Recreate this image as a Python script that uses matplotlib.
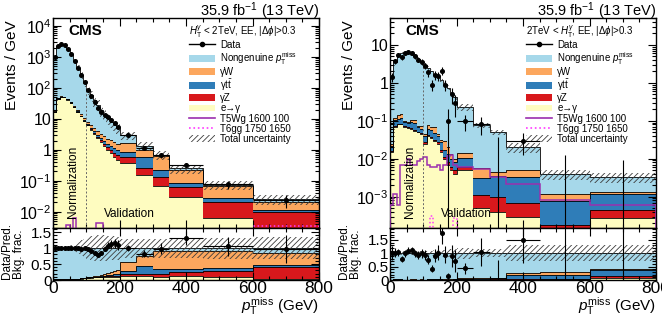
# CMS-style pTmiss distributions for the EE category, low and high H_T^gamma,
# with the stacked background, signal points and the data / bkg fraction pad.
import numpy as np
import matplotlib
matplotlib.use('Agg')
import matplotlib.pyplot as plt
from matplotlib.patches import Patch
from matplotlib.lines import Line2D
from matplotlib.ticker import MultipleLocator, LogLocator, FuncFormatter, NullFormatter
from matplotlib.transforms import blended_transform_factory

plt.rcParams['font.family'] = ['Liberation Sans', 'DejaVu Sans']
plt.rcParams['mathtext.fontset'] = 'custom'
plt.rcParams['mathtext.rm'] = 'Liberation Sans'
plt.rcParams['mathtext.it'] = 'Liberation Sans:italic'
plt.rcParams['mathtext.bf'] = 'Liberation Sans:bold'
plt.rcParams['hatch.linewidth'] = 0.6

# binning (GeV): 10 GeV bins up to 200, then wide bins
edges = [0, 10, 20, 30, 40, 50, 60, 70, 80, 90, 100, 110, 120, 130, 140, 150, 160,
         170, 180, 190, 200, 250, 300, 350, 450, 600, 800]

# ---- left panel: H_T^gamma < 2 TeV (events / GeV) ----
egamma_lo = [17, 45, 52, 50, 42, 33, 24, 17, 12, 8.5, 6.2, 4.5, 3.3, 2.4, 1.8, 1.35, 1.0,
             0.78, 0.6, 0.47, 0.37, 0.156, 0.07, 0.03, 0.0063, 0.001]
gz_lo = [0.05, 0.12, 0.18, 0.22, 0.24, 0.25, 0.26, 0.26, 0.26, 0.25, 0.25, 0.25, 0.24, 0.24,
         0.23, 0.23, 0.22, 0.22, 0.21, 0.21, 0.22, 0.10, 0.064, 0.033, 0.0137, 0.0092]
gtt_lo = [0.1, 0.3, 0.45, 0.55, 0.6, 0.6, 0.58, 0.55, 0.52, 0.5, 0.47, 0.44, 0.42, 0.4, 0.38,
          0.36, 0.34, 0.32, 0.3, 0.29, 0.27, 0.35, 0.09, 0.022, 0.008, 0.0012]
gw_lo = [0.2, 0.6, 1.0, 1.3, 1.5, 1.55, 1.5, 1.45, 1.35, 1.25, 1.15, 1.05, 0.97, 0.9, 0.84,
         0.78, 0.73, 0.69, 0.65, 0.62, 0.8, 0.39, 0.39, 0.145, 0.041, 0.0096]
nongen_lo = [983, 2154, 2546, 2348, 1756, 1165, 724, 431, 246, 139.5, 79.9, 51.8, 35.1, 24.1,
             16.3, 11.3, 8.2, 6.0, 4.5, 3.4, 1.34, 0.354, 0.066, 0.02, 0.006, 0.004]
data_lo = [1000, 2200, 2600, 2400, 1800, 1200, 742, 450, 255, 150, 85, 53, 34, 22, 16.6, 13.7,
           11.3, 9.0, 7.2, 5.5, 3.0, 1.11, 0.67, 0.33, 0.079, 0.024]
unc_lo = [0.04, 0.03, 0.03, 0.04, 0.06, 0.09, 0.13, 0.18, 0.24, 0.3, 0.35, 0.38, 0.4, 0.4, 0.4,
          0.4, 0.39, 0.38, 0.37, 0.36, 0.3, 0.3, 0.3, 0.32, 0.33, 0.35]
t5wg_lo = [1e-4, 1e-4, 1e-4, 1e-4, 0.0038, 1e-4, 0.0062, 1e-4, 1e-4, 1e-4, 1e-4, 1e-4, 1e-4,
           0.0045, 0.0045, 1e-4, 1e-4, 1e-4, 1e-4, 1e-4, 1e-4, 1e-4, 1e-4, 1e-4, 1e-4, 1e-4]
t6gg_lo = [1e-4, 1e-4, 1e-4, 1e-4, 1e-4, 1e-4, 1e-4, 1e-4, 1e-4, 1e-4, 1e-4, 1e-4, 1e-4,
           1e-4, 1e-4, 1e-4, 1e-4, 1e-4, 1e-4, 1e-4, 1e-4, 1e-4, 1e-4, 1e-4, 1e-4, 0.0035]

# ---- right panel: H_T^gamma > 2 TeV ----
egamma_hi = [0.015, 0.07, 0.08, 0.08, 0.07, 0.065, 0.06, 0.055, 0.05, 0.045, 0.025, 0.04, 0.035,
             0.03, 0.025, 0.015, 0.01, 0.007, 0.005, 0.004, 0.005, 0.0005, 0.0004, 0.0003,
             0.0001, 0.00028]
gz_hi = [0.001, 0.002, 0.003, 0.003, 0.003, 0.003, 0.003, 0.003, 0.002, 0.002, 0.002, 0.002,
         0.002, 0.002, 0.002, 0.002, 0.001, 0.001, 0.001, 0.001, 0.0012, 0.0006, 0.0006, 0.0004,
         0.00008, 0.00017]
gtt_hi = [0.006, 0.03, 0.03, 0.035, 0.02, 0.02, 0.03, 0.03, 0.015, 0.015, 0.012, 0.02, 0.02,
          0.015, 0.012, 0.01, 0.006, 0.005, 0.004, 0.003, 0.004, 0.002, 0.0025, 0.0027, 0.0006,
          0.00075]
gw_hi = [0.003, 0.02, 0.025, 0.035, 0.005, 0.006, 0.015, 0.02, 0.005, 0.01, 0.005, 0.015, 0.01,
         0.02, 0.006, 0.004, 0.012, 0.008, 0.003, 0.002, 0.004, 0.0025, 0.001, 0.0016, 0.0004,
         0.0001]
nongen_hi = [1.43, 3.48, 5.16, 5.85, 6.10, 5.91, 5.49, 4.89, 4.23, 3.53, 2.96, 2.42, 2.03, 1.68,
             1.41, 1.17, 0.92, 0.73, 0.54, 0.41, 0.216, 0.0724, 0.0455, 0.015, 0.0028, 0.002]
data_hi = [1.45, 3.7, 5.5, 4.8, 6.2, 6.6, 6.2, 5.0, 4.1, 3.6, 2.8, 1.9, 0.9, 1.6, 1.5, 2.1, 0.9,
           0.1, 0.5, 0.3, 0.1, 0.082, 0.0, 0.03, 0.0, 0.0]
unc_hi = [0.1, 0.08, 0.07, 0.07, 0.07, 0.07, 0.07, 0.07, 0.08, 0.08, 0.09, 0.1, 0.1, 0.11, 0.12,
          0.13, 0.14, 0.15, 0.16, 0.17, 0.2, 0.15, 0.15, 0.3, 0.3, 0.3]
t5wg_hi = [0.0006, 0.0012, 0.0006, 0.0068, 0.0068, 0.0100, 0.0070, 0.0070, 0.0088, 0.0100,
           0.0110, 0.0070, 0.0062, 0.0062, 0.0068, 0.0050, 0.0068, 0.0120, 0.0125, 0.0068,
           0.006, 0.0055, 0.0034, 0.0021, 0.0008, 0.0006]
t6gg_hi = [1e-6, 1e-6, 1e-6, 1e-6, 1e-6, 1e-6, 1e-6, 1e-6, 1e-6, 1e-6, 1e-6, 1e-6, 0.00032,
           1e-6, 1e-6, 1e-6, 1e-6, 1e-6, 1e-6, 0.00028, 1e-6, 1e-6, 1e-6, 1e-6, 1e-6, 1e-6]

c_nongen = '#a6d8ea'
c_gw = '#fca75e'
c_gtt = '#2f7db8'
c_gz = '#d8181c'
c_egamma = '#fefcc0'
c_t5wg = '#9b2fae'
c_t6gg = '#ff38ff'

legend_labels = ['Data', 'Nongenuine $p_{\\mathrm{T}}^{\\mathrm{miss}}$', '\u03b3W',
                 '\u03b3t$\\bar{\\mathrm{t}}$', '\u03b3Z', 'e\u2192\u03b3', 'T5Wg 1600 100',
                 'T6gg 1750 1650', 'Total uncertainty']


def log_label(v, pos):
    e = int(round(np.log10(v)))
    if e == 0:
        return '1'
    if e == 1:
        return '10'
    return '$10^{%d}$' % e


def draw_panel(ax, rax, bkg, data, unc, t5wg, t6gg, ylim, rlim, title):
    x = np.array(edges, dtype=float)
    centers = (x[:-1] + x[1:]) / 2
    half = np.diff(x) / 2
    width = np.diff(x)
    data = np.array(data, dtype=float)
    unc = np.array(unc)

    # stacked backgrounds, bottom to top, each outlined in black like ROOT does
    cum = np.zeros(len(centers))
    for vals, color in bkg:
        top = cum + np.array(vals)
        ax.stairs(top, x, baseline=np.maximum(cum, 1e-9), fill=True, color=color, lw=0)
        ax.stairs(top, x, baseline=None, color='k', lw=0.6)
        cum = top
    total = cum

    ax.stairs(total * (1 + unc), x, baseline=total * (1 - unc), fill=True, facecolor='none',
              edgecolor='#3c3c3c', hatch='//////', lw=0, zorder=3)

    ax.stairs(t5wg, x, baseline=1e-9, color=c_t5wg, lw=1.1, zorder=4)
    ax.stairs(t6gg, x, baseline=1e-9, color=c_t6gg, lw=1.1, ls=':', zorder=4)

    # normalization / validation split at 100 GeV
    ax.plot([100, 100], [ylim[0], max(total[9], total[10])], color='#666666', lw=0.7,
            ls=(0, (2, 2)), zorder=4)
    tr = blended_transform_factory(ax.transData, ax.transAxes)
    ax.text(60, 0.048, 'Normalization', rotation=90, ha='center', va='bottom', fontsize=8.5,
            transform=tr, zorder=6)
    ax.text(229, 0.066, 'Validation', ha='center', va='center', fontsize=8.5, transform=tr,
            zorder=6)

    # data with poisson errors, empty bins only get the upper bar
    err = np.sqrt(data * width) / width
    empty_up = 1.84 / width
    m = data > 0
    lo = np.minimum(err[m], data[m] - 1e-9)
    ax.errorbar(centers[m], data[m], xerr=half[m], yerr=[lo, err[m]], fmt='o', ms=2.6, color='k',
                elinewidth=0.8, capsize=0, zorder=10)
    ax.vlines(centers[~m], 1e-9, empty_up[~m], color='k', lw=0.8, zorder=10)

    ax.set_yscale('log')
    ax.set_ylim(ylim)
    ax.set_xlim(0, 800)
    ax.yaxis.set_major_locator(LogLocator(base=10, numticks=20))
    ax.yaxis.set_minor_locator(LogLocator(base=10, subs=np.arange(2, 10), numticks=20))
    ax.yaxis.set_major_formatter(FuncFormatter(log_label))
    ax.yaxis.set_minor_formatter(NullFormatter())
    ax.xaxis.set_major_locator(MultipleLocator(200))
    ax.xaxis.set_minor_locator(MultipleLocator(50))
    ax.tick_params(axis='x', labelbottom=False)

    handles = [Line2D([], [], color='k', marker='o', ms=3, lw=1),
               Patch(facecolor=c_nongen), Patch(facecolor=c_gw), Patch(facecolor=c_gtt),
               Patch(facecolor=c_gz), Patch(facecolor=c_egamma),
               Line2D([], [], color=c_t5wg, lw=1.2),
               Line2D([], [], color=c_t6gg, lw=1.2, ls=':'),
               Patch(facecolor='none', edgecolor='#3c3c3c', hatch='//////', lw=0)]
    ax.legend(handles, legend_labels, title=title, loc='upper left',
              bbox_to_anchor=(0.505, 0.985), frameon=False, fontsize=7, title_fontsize=7,
              alignment='left', handlelength=2.6, handleheight=0.7, labelspacing=0.02,
              borderpad=0.2, handletextpad=0.6, borderaxespad=0)

    ax.text(0.056, 0.938, 'CMS', transform=ax.transAxes, fontsize=11, weight='bold',
            va='center', ha='left')
    ax.text(1.0, 1.01, '35.9 fb$^{-1}$ (13 TeV)', transform=ax.transAxes, fontsize=10.5,
            ha='right', va='baseline')

    # lower pad: background fractions, then data / prediction on top
    cum = np.zeros(len(centers))
    for vals, color in bkg:
        top = cum + np.array(vals) / total
        rax.stairs(top, x, baseline=cum, fill=True, color=color, lw=0)
        rax.stairs(top, x, baseline=None, color='k', lw=0.6)
        cum = top
    rax.stairs(1 + unc, x, baseline=1 - unc, fill=True, facecolor='none', edgecolor='#3c3c3c',
               hatch='//////', lw=0, zorder=3)
    ratio = data / total
    rerr = err / total
    rlo = np.minimum(rerr[m], ratio[m])
    rax.errorbar(centers[m], ratio[m], xerr=half[m], yerr=[rlo, rerr[m]], fmt='o', ms=2.6,
                 color='k', elinewidth=0.8, capsize=0, zorder=10)
    rax.vlines(centers[~m], 0, empty_up[~m] / total[~m], color='k', lw=0.8, zorder=10)
    rax.set_xlim(0, 800)
    rax.set_ylim(rlim)
    rax.xaxis.set_major_locator(MultipleLocator(200))
    rax.xaxis.set_minor_locator(MultipleLocator(50))
    rax.yaxis.set_major_locator(MultipleLocator(0.5))
    rax.yaxis.set_minor_locator(MultipleLocator(0.1))
    rax.yaxis.set_major_formatter(FuncFormatter(lambda v, p: '%g' % v))
    rax.tick_params(axis='x', labelsize=12.5, pad=1)
    rax.tick_params(axis='y', labelsize=11, pad=1)

    for a in (ax, rax):
        a.tick_params(which='both', direction='in', top=True, right=True, width=0.8)
        a.tick_params(which='major', length=6)
        a.tick_params(which='minor', length=3)
        for s in a.spines.values():
            s.set_linewidth(1.0)
    ax.tick_params(axis='y', labelsize=11.5, pad=1)


fig = plt.figure(figsize=(6.62, 3.16), dpi=100)
W, H = 662.0, 316.0

panels = [
    (53, [(egamma_lo, c_egamma), (gz_lo, c_gz), (gtt_lo, c_gtt), (gw_lo, c_gw),
          (nongen_lo, c_nongen)], data_lo, unc_lo, t5wg_lo, t6gg_lo, (0.003, 1.8e4), (0, 1.63),
     '$H_{\\mathrm{T}}^{\\gamma}$ < 2TeV, EE, |$\\Delta\\phi$|>0.3'),
    (390, [(egamma_hi, c_egamma), (gz_hi, c_gz), (gtt_hi, c_gtt), (gw_hi, c_gw),
           (nongen_hi, c_nongen)], data_hi, unc_hi, t5wg_hi, t6gg_hi, (1.5e-4, 51), (0, 1.95),
     '2TeV < $H_{\\mathrm{T}}^{\\gamma}$, EE, |$\\Delta\\phi$|>0.3'),
]

for left, bkg, data, unc, t5wg, t6gg, ylim, rlim, title in panels:
    ax = fig.add_axes([left / W, 1 - 228 / H, 266 / W, 210 / H])
    rax = fig.add_axes([left / W, 1 - 280 / H, 266 / W, 52 / H])
    draw_panel(ax, rax, bkg, data, unc, t5wg, t6gg, ylim, rlim, title)
    fig.text((left - 41) / W, 1 - 20 / H, 'Events / GeV', rotation=90, ha='center', va='top',
             fontsize=11)
    fig.text((left - 40) / W, 1 - 279 / H, 'Data/Pred.\nBkg. frac.', rotation=90, ha='center',
             va='bottom', multialignment='left', fontsize=8.5, linespacing=0.95)
    fig.text((left + 266) / W, 1 - 306 / H, '$p_{\\mathrm{T}}^{\\mathrm{miss}}$ (GeV)',
             ha='right', va='center', fontsize=11)

fig.savefig('out.png', dpi=100)
